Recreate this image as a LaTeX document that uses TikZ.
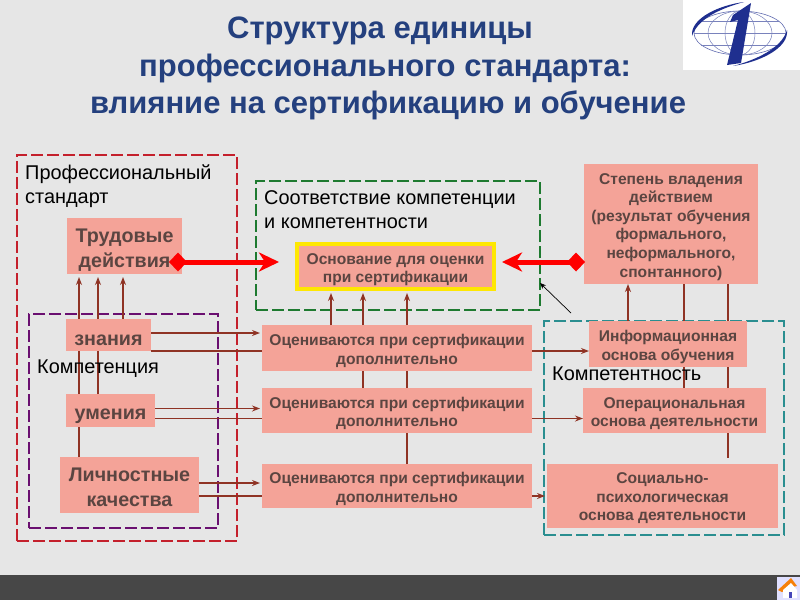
\documentclass[tikz,border=0pt]{standalone}
\usepackage{fontspec}
\setmainfont{Liberation Sans}
\usepackage{xcolor}
\usetikzlibrary{arrows.meta,calc}
\definecolor{bgcol}{HTML}{E6E6E6}
\definecolor{titlecol}{HTML}{24407E}
\definecolor{boxcol}{HTML}{F4A398}
\definecolor{boxtext}{HTML}{5B4541}
\definecolor{linkcol}{HTML}{8F3324}
\definecolor{redcol}{HTML}{C4202C}
\definecolor{purplecol}{HTML}{6A0F70}
\definecolor{greencol}{HTML}{1E7A30}
\definecolor{tealcol}{HTML}{2A8E90}
\definecolor{logocol}{HTML}{1F2F8F}

\begin{document}
\begin{tikzpicture}[
    x=1pt, y=-1pt,
    textdrop/.style={execute at begin node={\rule{0pt}{#1}}},
    unitbox/.style={rectangle, fill=boxcol, text=boxtext, align=center, inner sep=0pt, outer sep=0pt},
    bigbox/.style={unitbox, textdrop=22pt, font=\fontsize{19.7}{25}\selectfont\bfseries},
    midbox/.style={unitbox, textdrop=36pt, font=\fontsize{15.6}{18.6}\selectfont\bfseries},
    frame/.style={rectangle, draw, line width=1.8pt, dash pattern=on 12pt off 4pt, inner sep=0pt, outer sep=0pt},
    caption/.style={anchor=north west, align=left, inner sep=0pt, font=\fontsize{19.9}{24}\selectfont},
    titleline/.style={text=titlecol, inner sep=0pt, font=\fontsize{31}{34}\selectfont\bfseries},
    arrow/.style={-{Stealth[length=8pt,width=6pt]}, line width=1.6pt, draw=linkcol},
    link/.style={line width=1.6pt, draw=linkcol},
    thickarrow/.style={{Diamond[length=18pt,width=19pt]}-{Stealth[length=20pt,width=19pt,inset=6pt]}, line width=5pt, draw=red}
]

\fill[bgcol] (0,0) rectangle (800,600);
\useasboundingbox (0,0) rectangle (800,600);
\fill[black!72] (0,575) rectangle (800,600);

\node[titleline] (t1) at (380,31) {Структура единицы};
\node[titleline] (t2) at (385,68) {профессионального стандарта:};
\node[titleline] (t3) at (388,105) {влияние на сертификацию и обучение};

\fill[white] (683,0) rectangle (800,70);
\draw[logocol!70, line width=0.6pt] (740,33) ellipse (46 and 22);
\draw[logocol!60, line width=0.5pt] (740,33) ellipse (15 and 22);
\draw[logocol!60, line width=0.5pt] (740,33) ellipse (32 and 22);
\draw[logocol!60, line width=0.5pt] (694,33) -- (786,33);
\draw[logocol!60, line width=0.5pt] (701,21) -- (779,21);
\draw[logocol!60, line width=0.5pt] (701,45) -- (779,45);
\fill[logocol] (692,36) .. controls (690,18) and (720,5) .. (744,2) .. controls (722,8) and (698,18) .. (692,36);
\fill[logocol] (787,30) .. controls (789,48) and (760,62) .. (733,66) .. controls (756,60) and (782,48) .. (787,30);
\fill[logocol] (751,3) -- (741,63) -- (727,65) -- (738,20) -- (730,22) -- (733,15) -- cycle;

\fill[blue!12] (777,577) rectangle (800,600);
\fill[orange!85!brown] (778,590) -- (791,578) -- (797,586) -- (792,587) -- (782,592) -- cycle;
\fill[white] (783,590) -- (791,583) -- (797,590) -- (797,598) -- (783,598) -- cycle;
\fill[blue!45!gray] (789,592) rectangle (792,598);

\node[frame, draw=redcol, minimum width=220pt, minimum height=386pt] (profstd) at (127,348) {};
\node[frame, draw=purplecol, minimum width=189pt, minimum height=214pt] (kompet) at (123.5,421) {};
\node[frame, draw=greencol, minimum width=284pt, minimum height=129pt] (sootv) at (398,245.5) {};
\node[frame, draw=tealcol, minimum width=240pt, minimum height=214pt] (kompnost) at (664,428) {};

\node[bigbox, minimum width=115pt, minimum height=56pt, textdrop=47.5pt] (trud) at (124.5,246) {Трудовые\\действия};
\node[bigbox, minimum width=85pt, minimum height=32pt, textdrop=18pt] (znan) at (108.5,335) {знания};
\node[bigbox, minimum width=89pt, minimum height=33pt] (umen) at (110.5,410.5) {умения};
\node[bigbox, minimum width=139pt, minimum height=56pt, textdrop=43.5pt] (lich) at (129.5,485) {Личностные\\качества};

\node[midbox, minimum width=197pt, minimum height=45pt, draw=yellow!90!orange, line width=3.5pt, textdrop=34pt] (osnov) at (395.5,266.5) {Основание для оценки\\при сертификации};
\node[midbox, minimum width=270pt, minimum height=46pt] (ocen1) at (397,348) {Оцениваются при сертификации\\дополнительно};
\node[midbox, minimum width=270pt, minimum height=45pt] (ocen2) at (397,410.5) {Оцениваются при сертификации\\дополнительно};
\node[midbox, minimum width=270pt, minimum height=44pt] (ocen3) at (397,486) {Оцениваются при сертификации\\дополнительно};

\node[midbox, minimum width=174pt, minimum height=120pt, textdrop=109.5pt] (stepen) at (671,224) {Степень владения\\действием\\(результат обучения\\формального,\\неформального,\\спонтанного)};
\node[midbox, minimum width=158pt, minimum height=46pt] (inform) at (668,344) {Информационная\\основа обучения};
\node[midbox, minimum width=183pt, minimum height=45pt, textdrop=33pt] (operac) at (674.5,410.5) {Операциональная\\основа деятельности};
\node[midbox, minimum width=231pt, minimum height=64pt, textdrop=52.7pt] (social) at (662.5,496) {Социально-\\психологическая\\основа деятельности};

\coordinate (upa) at (79,0);
\coordinate (upb) at (98,0);
\coordinate (upc) at (123,0);
\coordinate (cola) at (331,0);
\coordinate (colb) at (363,0);
\coordinate (colc) at (407,0);
\coordinate (rowa) at (0,333);
\coordinate (rowb) at (0,351);
\coordinate (rowc) at (0,408.5);
\coordinate (rowd) at (0,418.5);
\coordinate (rowe) at (0,483);
\coordinate (rowf) at (0,496);
\coordinate (rcola) at (628,0);
\coordinate (rcolb) at (684,0);
\coordinate (rcolc) at (728,0);
\coordinate (thickrow) at (0,262);
\coordinate (gapend) at (728,458);
\coordinate (ptrtail) at (571,313);
\coordinate (ptrtip) at (540,283);

\draw[arrow, shorten >=3pt] (znan.north -| upa) -- (trud.south -| upa);
\draw[arrow, shorten >=3pt] (znan.north -| upb) -- (trud.south -| upb);
\draw[arrow, shorten >=3pt] (znan.north -| upc) -- (trud.south -| upc);
\draw[link] (umen.north -| upa) -- (znan.south -| upa);
\draw[link] (umen.north -| upb) -- (znan.south -| upb);
\draw[link] (lich.north -| upa) -- (umen.south -| upa);

\draw[arrow, shorten >=2pt] (znan.east |- rowa) -- (ocen1.west |- rowa);
\draw[link] (znan.south east) -- (ocen1.west |- rowb);
\draw[arrow] (ocen1.east |- rowb) -- (inform.west |- rowb);
\draw[arrow, shorten >=2pt] (umen.east |- rowc) -- (ocen2.west |- rowc);
\draw[link] (umen.east |- rowd) -- (ocen2.west |- rowd);
\draw[arrow] (ocen2.east |- rowd) -- (operac.west |- rowd);
\draw[arrow, shorten >=2pt] (lich.east |- rowe) -- (ocen3.west |- rowe);
\draw[link] (lich.east |- rowf) -- (ocen3.west |- rowf);
\draw[arrow, shorten >=2pt] (ocen3.east |- rowf) -- (social.west |- rowf);

\draw[arrow, shorten >=4pt] (ocen1.north -| cola) -- (osnov.south -| cola);
\draw[arrow, shorten >=4pt] (ocen1.north -| colb) -- (osnov.south -| colb);
\draw[arrow, shorten >=4pt] (ocen1.north -| colc) -- (osnov.south -| colc);
\draw[link] (ocen2.north -| colb) -- (ocen1.south -| colb);
\draw[link] (ocen2.north -| colc) -- (ocen1.south -| colc);
\draw[link] (ocen3.north -| colc) -- (ocen2.south -| colc);

\draw[arrow] (inform.north -| rcola) -- (stepen.south -| rcola);
\draw[link] (inform.north -| rcolb) -- (stepen.south -| rcolb);
\draw[link] (inform.north -| rcolc) -- (stepen.south -| rcolc);
\draw[link] (operac.north -| rcolb) -- (inform.south -| rcolb);
\draw[link] (operac.north -| rcolc) -- (inform.south -| rcolc);
\draw[link] (operac.south -| rcolc) -- (gapend);

\draw[thickarrow, shorten <=-13pt, shorten >=18pt] (trud.east |- thickrow) -- (osnov.west |- thickrow);
\draw[thickarrow, shorten >=8pt, shorten <=-1pt] (stepen.west |- thickrow) -- (osnov.east |- thickrow);
\draw[-{Stealth[length=6pt,width=5pt]}, line width=0.7pt] (ptrtail) -- (ptrtip);

\node[caption] (lblprof) at (25,165) {Профессиональный\\стандарт};
\node[caption] (lblkomp) at (37,360) {Компетенция};
\node[caption] (lblsootv) at (264,190) {Соответствие компетенции\\и компетентности};
\node[caption] (lblnost) at (552,367) {Компетентность};

\end{tikzpicture}
\end{document}
